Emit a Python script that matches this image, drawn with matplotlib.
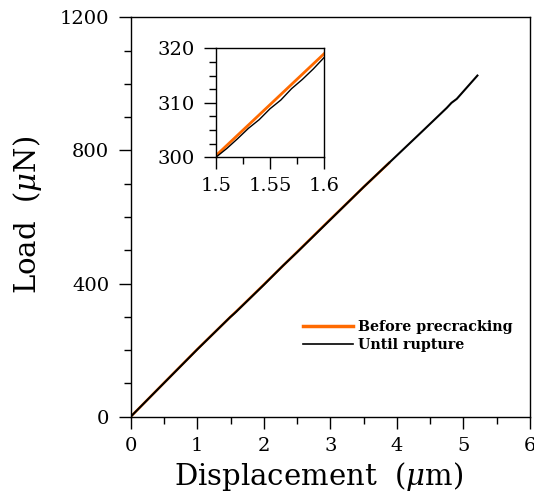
import matplotlib
matplotlib.use("Agg")
import matplotlib.pyplot as plt
from matplotlib.ticker import MultipleLocator

plt.rcParams['font.family'] = ['DejaVu Serif']
plt.rcParams['mathtext.fontset'] = 'dejavuserif'

# Until rupture (black)
rupture_disp = [0.0, 0.5, 1.0, 1.5, 1.51, 1.52, 1.53, 1.54, 1.55, 1.56, 1.57, 1.58, 1.59, 1.6,
                2.0, 2.29, 2.5, 3.0, 3.5, 3.9, 4.4, 4.75, 4.82, 4.9, 5.21]
rupture_load = [0.0, 101.0, 202.0, 300.0, 301.6, 303.4, 305.3, 306.9, 308.9, 310.5, 312.6, 314.3, 316.2, 318.3,
                396.0, 454.0, 494.0, 592.0, 690.0, 766.0, 861.0, 928.0, 943.0, 955.0, 1025.0]

# Before precracking (orange)
pre_disp = [0.0, 0.5, 1.0, 1.5, 1.6, 2.0, 2.5, 3.0, 3.5, 3.88]
pre_load = [0.0, 101.5, 202.5, 300.3, 319.0, 397.0, 495.0, 593.0, 690.0, 762.0]

labels = ["Before precracking", "Until rupture"]
orange = "#FF6A00"

fig = plt.figure(figsize=(5.34, 4.99), dpi=100)
ax = fig.add_axes([0.2448, 0.165, 0.7477, 0.8003])
ax.plot(pre_disp, pre_load, color=orange, lw=1.8, label=labels[0])
ax.plot(rupture_disp, rupture_load, color="black", lw=1.5, label=labels[1])
ax.set_xlim(0, 6)
ax.set_ylim(0, 1200)
ax.xaxis.set_major_locator(MultipleLocator(1))
ax.xaxis.set_minor_locator(MultipleLocator(0.5))
ax.yaxis.set_major_locator(MultipleLocator(400))
ax.yaxis.set_minor_locator(MultipleLocator(100))
ax.tick_params(which='both', direction='out', top=False, right=False, labelsize=14, width=1.0)
ax.tick_params(which='major', length=8.5)
ax.tick_params(which='minor', length=4.8)
ax.tick_params(axis='x', pad=6)
ax.tick_params(axis='y', pad=7)
for s in ax.spines.values():
    s.set_linewidth(1.0)

ax.set_xlabel("Displacement  ($\\mu$m)", fontsize=21)
ax.set_ylabel("Load  ($\\mu$N)", fontsize=21)
ax.xaxis.set_label_coords(0.4716, -0.108)
ax.yaxis.set_label_coords(-0.216, 0.505)

leg = ax.legend(loc='upper left', bbox_to_anchor=(0.431, 0.243), frameon=False,
                prop={'family': 'DejaVu Serif', 'weight': 'bold', 'size': 10.3},
                handlelength=3.5, handletextpad=0.35, labelspacing=0.3, borderpad=0,
                borderaxespad=0)
leg.get_lines()[0].set_linewidth(2.5)
leg.get_lines()[1].set_linewidth(1.2)

# inset
axi = fig.add_axes([0.4045, 0.685, 0.2022, 0.218])
axi.plot(pre_disp, pre_load, color=orange, lw=2.0)
axi.plot(rupture_disp, rupture_load, color="black", lw=1.0)
axi.set_xlim(1.5, 1.6)
axi.set_ylim(300, 320)
axi.set_xticks([1.5, 1.55, 1.6])
axi.set_xticklabels(["1.5", "1.55", "1.6"])
axi.set_yticks([300, 310, 320])
axi.xaxis.set_minor_locator(MultipleLocator(0.025))
axi.yaxis.set_minor_locator(MultipleLocator(2.5))
axi.tick_params(which='both', direction='out', top=False, right=False, labelsize=14, width=1.0)
axi.tick_params(which='major', length=8.5)
axi.tick_params(which='minor', length=4.8)
axi.tick_params(axis='x', pad=6)
axi.tick_params(axis='y', pad=7)
for s in axi.spines.values():
    s.set_linewidth(1.0)

fig.savefig("out.png", dpi=100)
